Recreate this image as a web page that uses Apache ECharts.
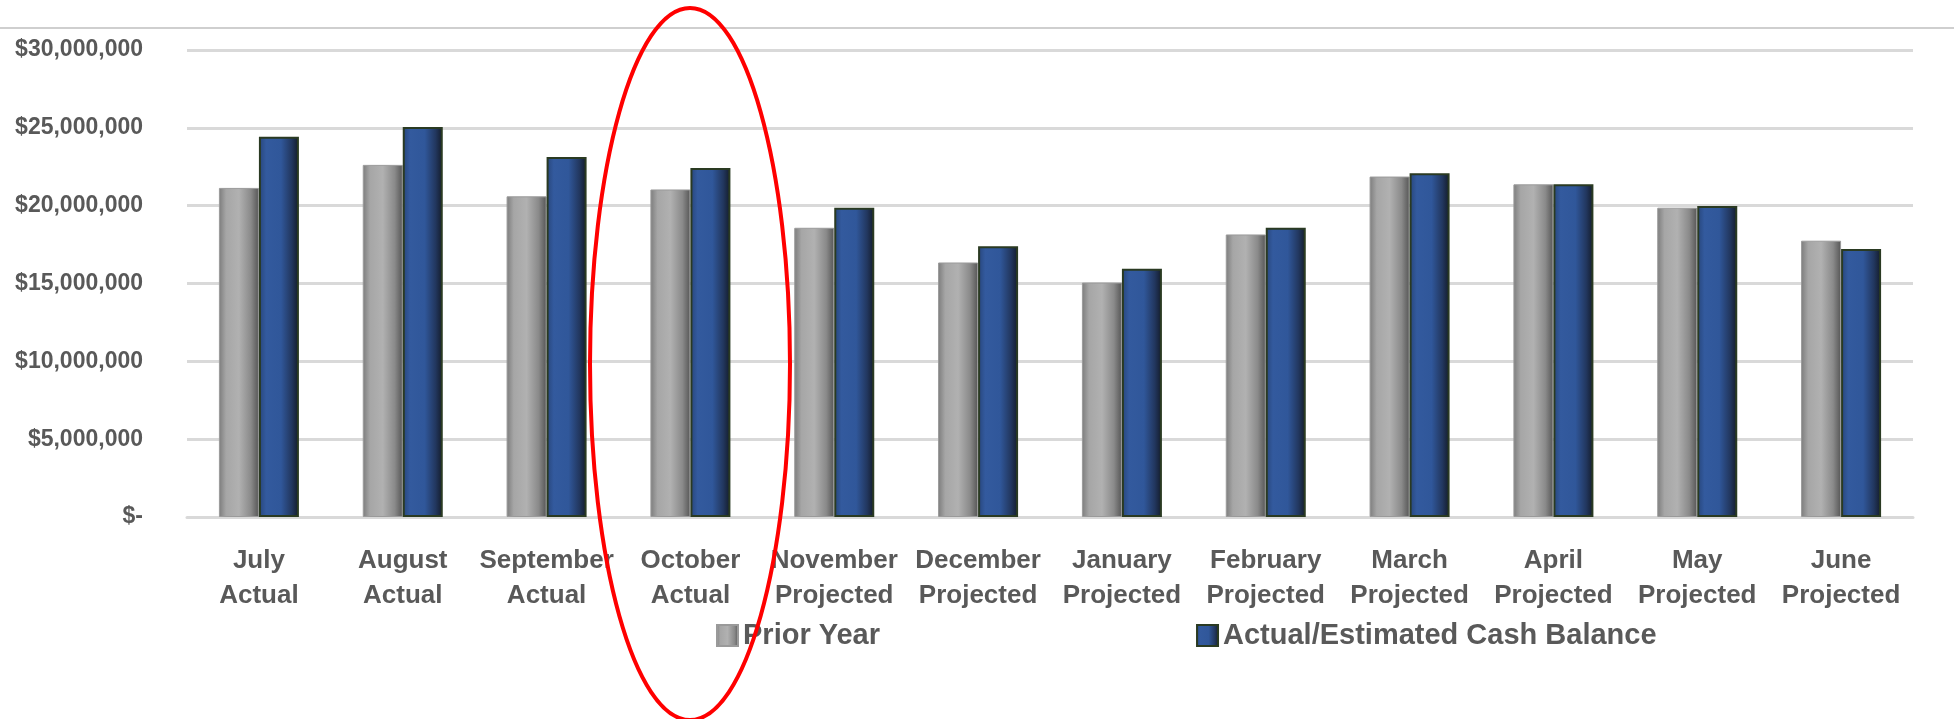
<!DOCTYPE html>
<html lang="en">
<head>
<meta charset="UTF-8" />
<title>Cash Balance</title>
<script src="https://cdn.jsdelivr.net/npm/echarts@6/dist/echarts.min.js"></script>
<style>
  html, body { margin: 0; padding: 0; background: #fff; }
  #main { width: 1954px; height: 719px; }
</style>
</head>
<body>
<div id="main"></div>
<script type="text/javascript">
// months, two lines each
var months = ['July\nActual', 'August\nActual', 'September\nActual', 'October\nActual',
  'November\nProjected', 'December\nProjected', 'January\nProjected', 'February\nProjected',
  'March\nProjected', 'April\nProjected', 'May\nProjected', 'June\nProjected'];

var priorYear = [21140000, 22620000, 20600000, 21040000, 18580000, 16350000,
  15060000, 18150000, 21870000, 21370000, 19870000, 17750000];

var cashBalance = [24420000, 25060000, 23130000, 22420000, 19870000, 17400000,
  15940000, 18580000, 22080000, 21370000, 19980000, 17210000];

var seriesNames = ['Prior Year', 'Actual/Estimated Cash Balance'];

var fontName = '"Liberation Sans", Arial, sans-serif';
var textColor = '#595959';

function money(v) {
  if (v === 0) return '$-';
  return '$' + v.toString().replace(/\B(?=(\d{3})+(?!\d))/g, ',');
}

var grayFill = new echarts.graphic.LinearGradient(0, 0, 1, 0, [
  { offset: 0, color: '#7c7c7c' },
  { offset: 0.18, color: '#a6a6a6' },
  { offset: 0.5, color: '#b1b1b1' },
  { offset: 0.8, color: '#8a8a8a' },
  { offset: 1, color: '#555555' }
]);
var blueFill = new echarts.graphic.LinearGradient(0, 0, 1, 0, [
  { offset: 0, color: '#27457a' },
  { offset: 0.18, color: '#335a9e' },
  { offset: 0.55, color: '#30579a' },
  { offset: 0.82, color: '#22375f' },
  { offset: 1, color: '#131a28' }
]);

var myChart = echarts.init(document.getElementById('main'));
var option = {
  animation: false,
  grid: { left: 187, right: 41, top: 50, bottom: 202 },
  legend: {
    data: seriesNames,
    icon: 'rect',
    left: 711,
    top: 616,
    itemWidth: 21,
    itemHeight: 21,
    itemGap: 316,
    textStyle: { fontFamily: fontName, fontWeight: 'bold', fontSize: 29, color: textColor }
  },
  xAxis: {
    type: 'category',
    data: months,
    axisLine: { lineStyle: { color: '#d9d9d9', width: 3 } },
    axisTick: { show: false },
    axisLabel: {
      interval: 0,
      margin: 26,
      fontFamily: fontName,
      fontWeight: 'bold',
      fontSize: 26,
      lineHeight: 35,
      color: textColor
    }
  },
  yAxis: {
    type: 'value',
    min: 0,
    max: 30000000,
    interval: 5000000,
    axisLine: { show: false },
    axisTick: { show: false },
    splitLine: { lineStyle: { color: '#d9d9d9', width: 3 } },
    axisLabel: {
      margin: 44,
      fontFamily: fontName,
      fontWeight: 'bold',
      fontSize: 23,
      color: textColor,
      formatter: money
    }
  },
  series: [
    {
      name: seriesNames[0],
      type: 'bar',
      data: priorYear,
      barWidth: 40,
      barGap: '0%',
      itemStyle: { color: grayFill, borderColor: '#9a9a9a', borderWidth: 1 }
    },
    {
      name: seriesNames[1],
      type: 'bar',
      data: cashBalance,
      barWidth: 40,
      itemStyle: { color: blueFill, borderColor: '#2a3a22', borderWidth: 2 }
    }
  ],
  graphic: [
    {
      type: 'line',
      shape: { x1: 0, y1: 28, x2: 1954, y2: 28 },
      style: { stroke: '#bfbfbf', lineWidth: 1.5 }
    },
    {
      type: 'ellipse',
      shape: { cx: 690, cy: 364, rx: 100, ry: 356 },
      style: { fill: null, stroke: '#ff0000', lineWidth: 4 },
      z: 100
    }
  ]
};
myChart.setOption(option);
</script>
</body>
</html>
